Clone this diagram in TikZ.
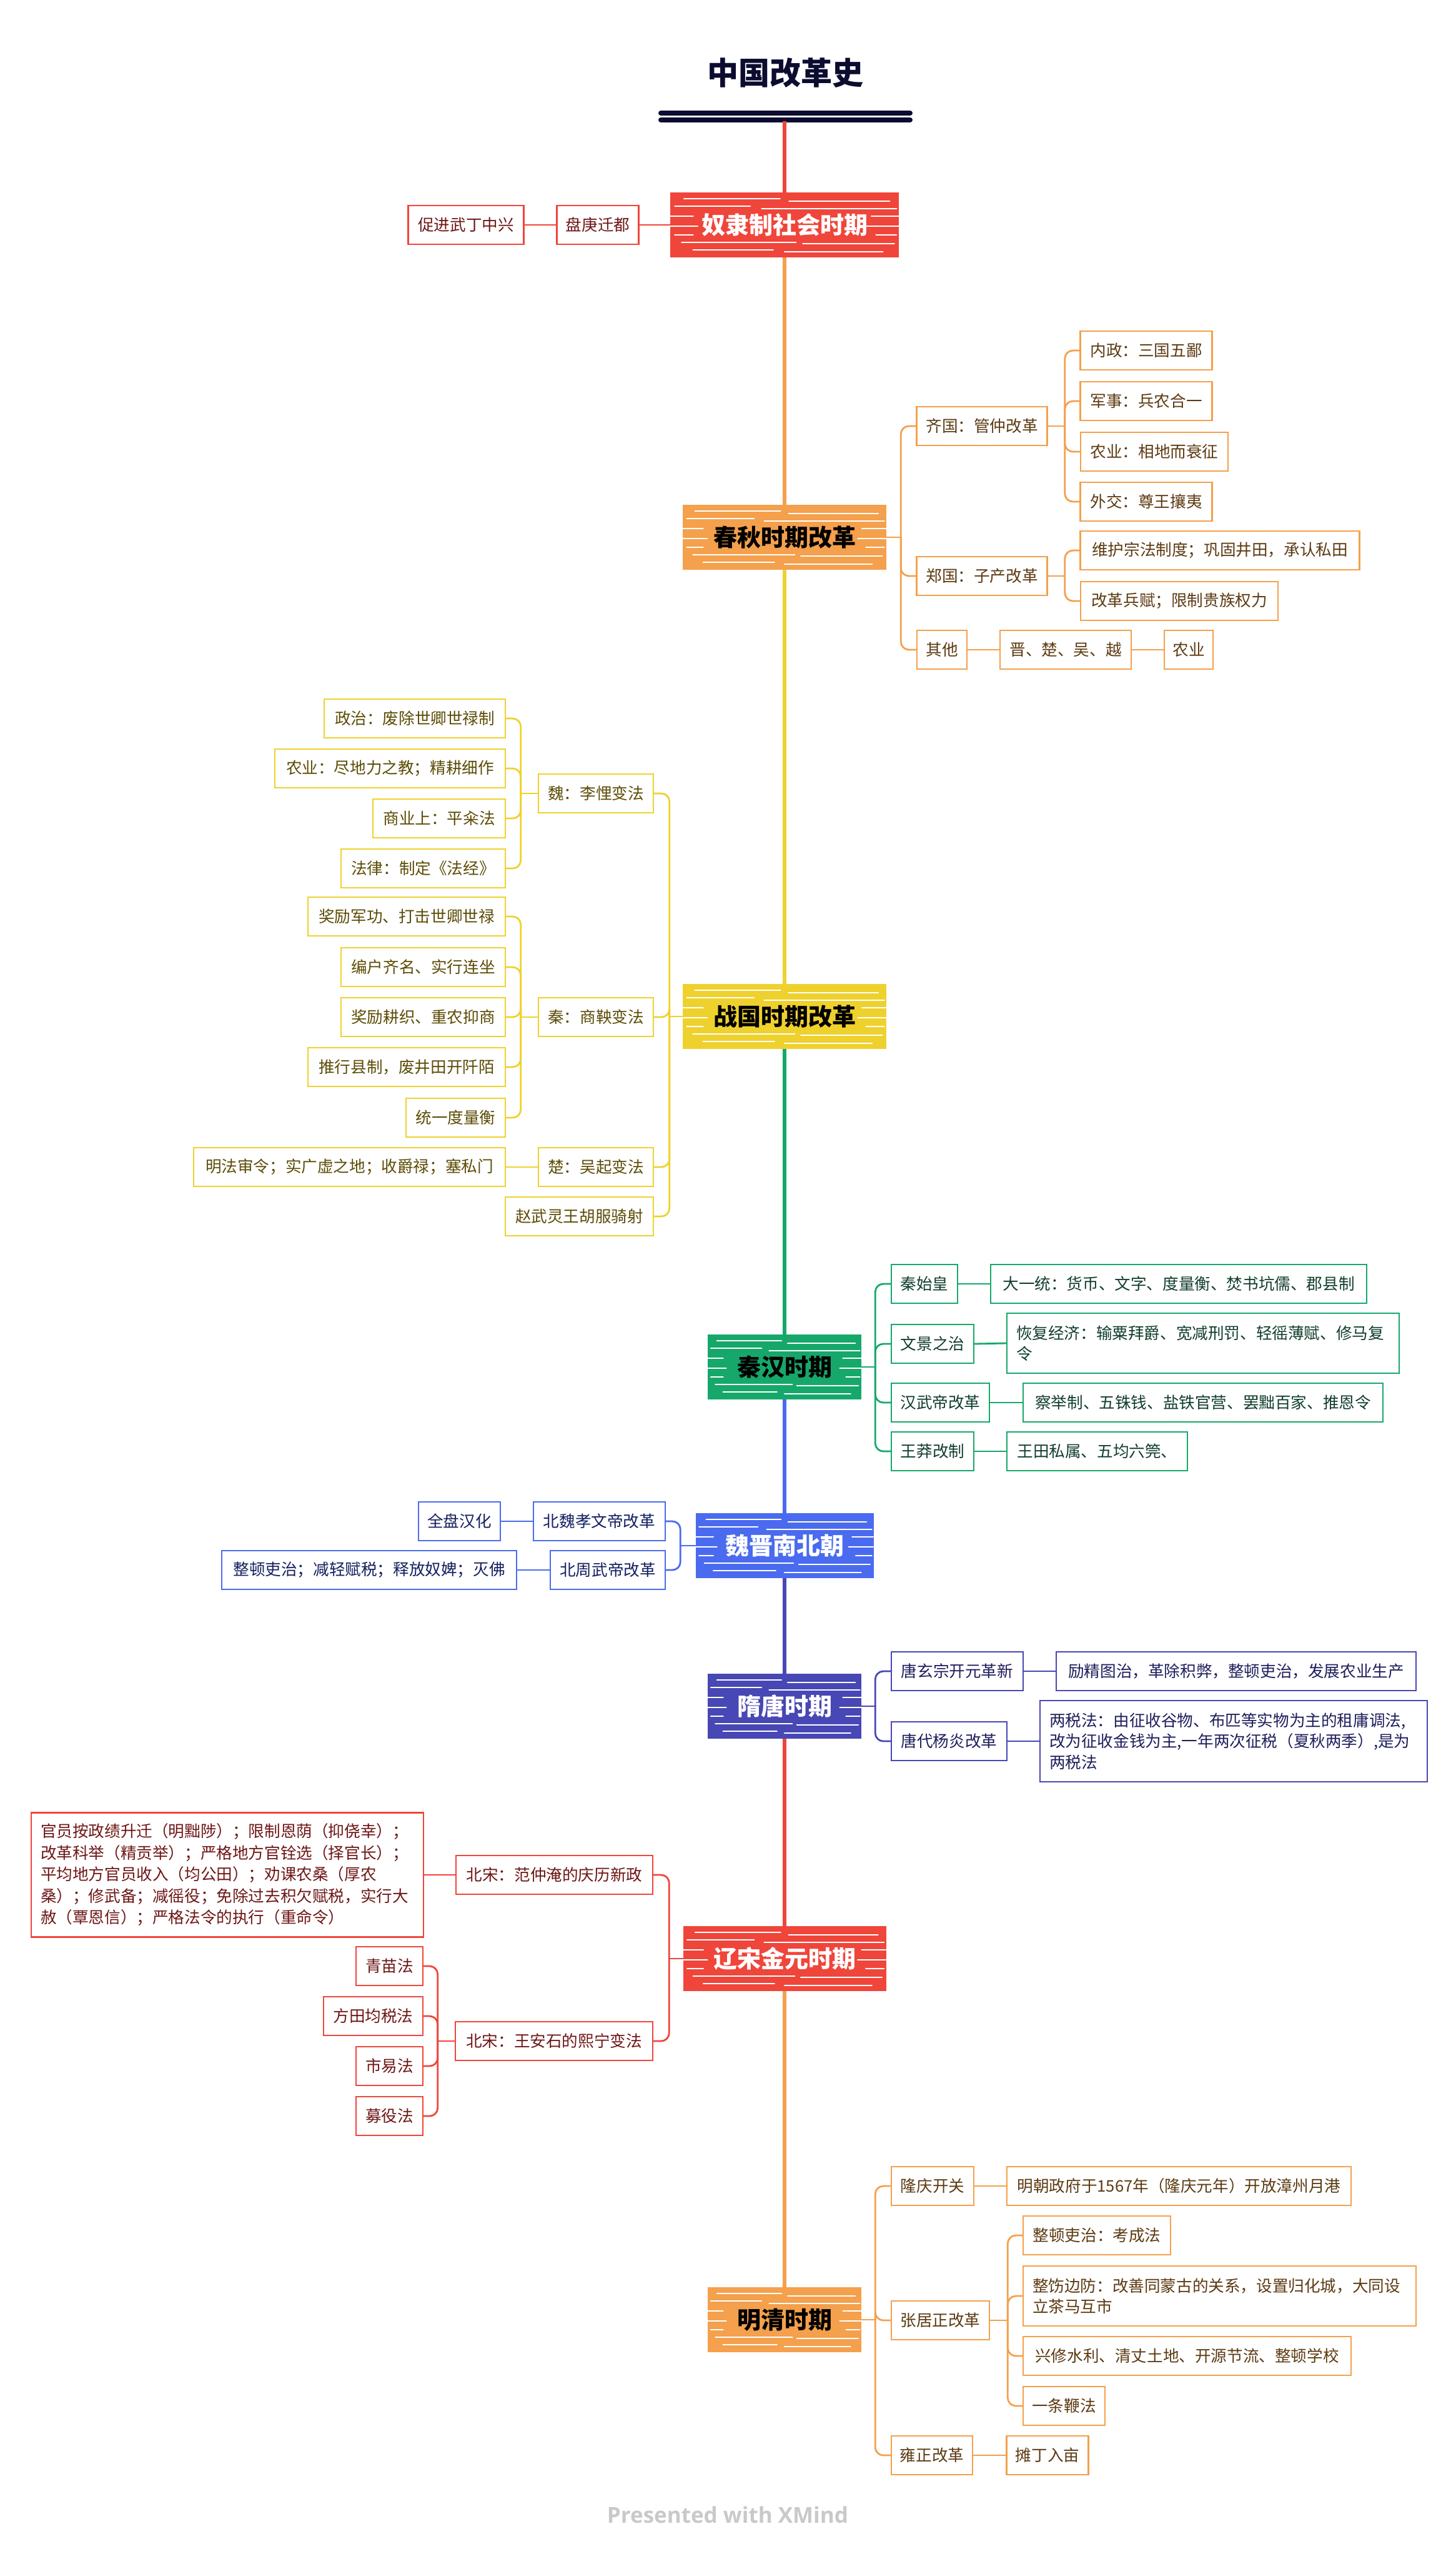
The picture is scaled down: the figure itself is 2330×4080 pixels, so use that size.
\documentclass[tikz,border=0pt]{standalone}
\usepackage{fontspec}
\setmainfont{Noto Sans CJK SC}
\newfontfamily\xmfont{Open Sans}
\usetikzlibrary{calc}
\definecolor{cR}{HTML}{F0453A}
\definecolor{cO}{HTML}{F4A04C}
\definecolor{cY}{HTML}{EFD12E}
\definecolor{cG}{HTML}{16A86B}
\definecolor{cB}{HTML}{4A6BEF}
\definecolor{cI}{HTML}{4747B5}
\definecolor{tR}{HTML}{6E1616}
\definecolor{tO}{HTML}{5C3A12}
\definecolor{tY}{HTML}{5C4C06}
\definecolor{tG}{HTML}{123E2C}
\definecolor{tB}{HTML}{14205F}
\definecolor{tI}{HTML}{1E1E5C}
\definecolor{navy}{HTML}{0C0C30}
\definecolor{xmgray}{HTML}{C9C9C9}
\tikzset{
  wd/.style={minimum width=#1pt},
  ht/.style={minimum height=#1pt},
  sub/.style 2 args={draw=#1, text=#2, fill=white, line width=2.6pt, minimum height=62pt, inner sep=0pt, font=\fontsize{25.6}{33.5}\selectfont},
  nodeR/.style={sub={cR}{tR}},
  nodeO/.style={sub={cO}{tO}},
  nodeY/.style={sub={cY}{tY}},
  nodeG/.style={sub={cG}{tG}},
  nodeB/.style={sub={cB}{tB}},
  nodeI/.style={sub={cI}{tI}},
  ml/.style={align=left, text width=#1pt, inner xsep=15pt, inner ysep=0pt},
  mainbox/.style 2 args={fill=#1, text=#2, minimum height=104pt, inner sep=0pt, font=\bfseries\fontsize{38}{44}\selectfont,
    path picture={
      \foreach \yy/\xa/\xb in {-42/0.06/0.48, -38/0.52/0.96, -30/0.02/0.35, -26/0.40/0.99, -14/0.0/0.1, -14/0.88/1.0, 2/0.0/0.12, 2/0.86/1.0, 16/0.02/0.1, 16/0.9/0.99, 28/0.05/0.55, 30/0.58/0.98, 40/0.1/0.45, 43/0.5/0.93}{
        \draw[white, line width=2.4pt, line cap=round]
          ($(path picture bounding box.west)!\xa!(path picture bounding box.east)+(0,\yy)$) --
          ($(path picture bounding box.west)!\xb!(path picture bounding box.east)+(0,\yy)$);
      }
    }},
  trunk/.style={draw=#1, line width=5.5pt},
  lk/.style={draw=#1, line width=2.8pt, rounded corners=13pt, line cap=round},
}
\begin{document}
\begin{tikzpicture}[x={(1pt,0)}, y={(0,-1pt)}]
\fill[white] (0,0) rectangle (2330,4080);
\useasboundingbox (0,0) rectangle (2330,4080);

% title
\node[font=\bfseries\fontsize{50}{60}\selectfont, text=navy] (root) at (1257,117) {中国改革史};
\coordinate (barL) at (1058,181); \coordinate (barR) at (1457,181);
\coordinate (barL2) at (1058,192); \coordinate (barR2) at (1457,192);
\draw[navy, line width=8pt, line cap=round] (barL) -- (barR);
\draw[navy, line width=8pt, line cap=round] (barL2) -- (barR2);
\coordinate (bar) at (1256,194);

% main nodes
\node[mainbox={cR}{white}, wd=366] (m1) at (1256,360) {奴隶制社会时期};
\node[mainbox={cO}{black}, wd=326] (m2) at (1256,860) {春秋时期改革};
\node[mainbox={cY}{black}, wd=326] (m3) at (1256,1627) {战国时期改革};
\node[mainbox={cG}{black}, wd=246] (m4) at (1256,2188) {秦汉时期};
\node[mainbox={cB}{white}, wd=285] (m5) at (1256,2474) {魏晋南北朝};
\node[mainbox={cI}{white}, wd=246] (m6) at (1256,2731) {隋唐时期};
\node[mainbox={cR}{white}, wd=325] (m7) at (1256,3135) {辽宋金元时期};
\node[mainbox={cO}{black}, wd=246] (m8) at (1256,3713) {明清时期};

\draw[trunk=cR] (bar) -- (m1.north);
\draw[trunk=cO] (m1.south) -- (m2.north);
\draw[trunk=cY] (m2.south) -- (m3.north);
\draw[trunk=cG] (m3.south) -- (m4.north);
\draw[trunk=cB] (m4.south) -- (m5.north);
\draw[trunk=cI] (m5.south) -- (m6.north);
\draw[trunk=cR] (m6.south) -- (m7.north);
\draw[trunk=cO] (m7.south) -- (m8.north);

% ---- 奴隶制社会时期
\node[nodeR, wd=131] (pg) at (957,360) {盘庚迁都};
\node[nodeR, wd=185] (cj) at (746,360) {促进武丁中兴};
\draw[lk=cR] (m1.west) -- (pg.east);
\draw[lk=cR] (pg.west) -- (cj.east);

% ---- 春秋时期改革
\node[nodeO, wd=209] (qg) at (1572,682) {齐国：管仲改革};
\node[nodeO, wd=211] (nz) at (1835,561) {内政：三国五鄙};
\node[nodeO, wd=211] (js) at (1835,642) {军事：兵农合一};
\node[nodeO, wd=236] (ny) at (1848,723) {农业：相地而衰征};
\node[nodeO, wd=211] (wj) at (1835,803) {外交：尊王攘夷};
\node[nodeO, wd=209] (zg) at (1572,922) {郑国：子产改革};
\node[nodeO, wd=447] (wh) at (1953,881) {维护宗法制度；巩固井田，承认私田};
\node[nodeO, wd=316] (gb) at (1888,962) {改革兵赋；限制贵族权力};
\node[nodeO, wd=80] (qt) at (1508,1040) {其他};
\node[nodeO, wd=210] (jc) at (1706,1040) {晋、楚、吴、越};
\node[nodeO, wd=78] (nye) at (1903,1040) {农业};
\coordinate (j2) at ($(m2.east)+(23,0)$);
\draw[lk=cO] (m2.east) -- (j2);
\foreach \c in {qg,zg,qt} \draw[lk=cO] (j2) |- (\c.west);
\coordinate (jqg) at ($(qg.east)+(27,0)$);
\draw[lk=cO] (qg.east) -- (jqg);
\foreach \c in {nz,js,ny,wj} \draw[lk=cO] (jqg) |- (\c.west);
\coordinate (jzg) at ($(zg.east)+(27,0)$);
\draw[lk=cO] (zg.east) -- (jzg);
\foreach \c in {wh,gb} \draw[lk=cO] (jzg) |- (\c.west);
\draw[lk=cO] (qt.east) -- (jc.west);
\draw[lk=cO] (jc.east) -- (nye.west);

% ---- 战国时期改革
\node[nodeY, wd=184] (wei) at (954,1270) {魏：李悝变法};
\node[nodeY, wd=290] (y1) at (664,1150) {政治：废除世卿世禄制};
\node[nodeY, wd=369] (y2) at (624.5,1230) {农业：尽地力之教；精耕细作};
\node[nodeY, wd=212] (y3) at (703,1310) {商业上：平籴法};
\node[nodeY, wd=263] (y4) at (677.5,1390) {法律：制定《法经》};
\node[nodeY, wd=184] (qin) at (954,1628) {秦：商鞅变法};
\node[nodeY, wd=316] (s1) at (651,1467) {奖励军功、打击世卿世禄};
\node[nodeY, wd=263] (s2) at (677.5,1548) {编户齐名、实行连坐};
\node[nodeY, wd=263] (s3) at (677.5,1628) {奖励耕织、重农抑商};
\node[nodeY, wd=316] (s4) at (651,1708) {推行县制，废井田开阡陌};
\node[nodeY, wd=159] (s5) at (729.5,1789) {统一度量衡};
\node[nodeY, wd=184] (chu) at (954,1868) {楚：吴起变法};
\node[nodeY, wd=499] (c1) at (559.5,1868) {明法审令；实广虚之地；收爵禄；塞私门};
\node[nodeY, wd=237] (zw) at (927.5,1947) {赵武灵王胡服骑射};
\coordinate (j3) at ($(m3.west)+(-21,0)$);
\draw[lk=cY] (m3.west) -- (j3);
\foreach \c in {wei,qin,chu,zw} \draw[lk=cY] (j3) |- (\c.east);
\coordinate (jwei) at ($(wei.west)+(-27,0)$);
\draw[lk=cY] (wei.west) -- (jwei);
\foreach \c in {y1,y2,y3,y4} \draw[lk=cY] (jwei) |- (\c.east);
\coordinate (jqin) at ($(qin.west)+(-27,0)$);
\draw[lk=cY] (qin.west) -- (jqin);
\foreach \c in {s1,s2,s3,s4,s5} \draw[lk=cY] (jqin) |- (\c.east);
\draw[lk=cY] (chu.west) -- (c1.east);

% ---- 秦汉时期
\node[nodeG, wd=106] (sh) at (1480,2055) {秦始皇};
\node[nodeG, wd=602] (sh1) at (1887,2055) {大一统：货币、文字、度量衡、焚书坑儒、郡县制};
\node[nodeG, wd=132] (wjz) at (1493,2151) {文景之治};
\node[nodeG, ml=598, ht=96] (wj1) at (1926,2150) {恢复经济：输粟拜爵、宽减刑罚、轻徭薄赋、修马复\\令};
\node[nodeG, wd=157] (hw) at (1505.5,2245) {汉武帝改革};
\node[nodeG, wd=576] (hw1) at (1926,2245) {察举制、五铢钱、盐铁官营、罢黜百家、推恩令};
\node[nodeG, wd=132] (wm) at (1493,2323) {王莽改制};
\node[nodeG, wd=289] (wm1) at (1756.5,2323) {王田私属、五均六筦、};
\coordinate (j4) at ($(m4.east)+(22,0)$);
\draw[lk=cG] (m4.east) -- (j4);
\foreach \c in {sh,wjz,hw,wm} \draw[lk=cG] (j4) |- (\c.west);
\draw[lk=cG] (sh.east) -- (sh1.west);
\draw[lk=cG] (wjz.east) -- (wj1.west);
\draw[lk=cG] (hw.east) -- (hw1.west);
\draw[lk=cG] (wm.east) -- (wm1.west);

% ---- 魏晋南北朝
\node[nodeB, wd=211] (bw) at (959.5,2435) {北魏孝文帝改革};
\node[nodeB, wd=131] (qp) at (735.5,2435) {全盘汉化};
\node[nodeB, wd=184] (bz) at (973,2513) {北周武帝改革};
\node[nodeB, wd=472] (zd) at (591,2513) {整顿吏治；减轻赋税；释放奴婢；灭佛};
\coordinate (j5) at ($(m5.west)+(-24,0)$);
\draw[lk=cB] (m5.west) -- (j5);
\foreach \c in {bw,bz} \draw[lk=cB] (j5) |- (\c.east);
\draw[lk=cB] (bw.west) -- (qp.east);
\draw[lk=cB] (bz.west) -- (zd.east);

% ---- 隋唐时期
\node[nodeI, wd=211] (tx) at (1532.5,2675) {唐玄宗开元革新};
\node[nodeI, wd=576] (tx1) at (1979,2675) {励精图治，革除积弊，整顿吏治，发展农业生产};
\node[nodeI, wd=185] (ty) at (1519.5,2787) {唐代杨炎改革};
\node[nodeI, ml=590, ht=130] (ty1) at (1975,2787) {两税法：由征收谷物、布匹等实物为主的租庸调法,\\改为征收金钱为主,一年两次征税（夏秋两季）,是为\\两税法};
\coordinate (j6) at ($(m6.east)+(22,0)$);
\draw[lk=cI] (m6.east) -- (j6);
\foreach \c in {tx,ty} \draw[lk=cI] (j6) |- (\c.west);
\draw[lk=cI] (tx.east) -- (tx1.west);
\draw[lk=cI] (ty.east) -- (ty1.west);

% ---- 辽宋金元时期
\node[nodeR, wd=315] (fz) at (887.5,3001) {北宋：范仲淹的庆历新政};
\node[nodeR, ml=598, ht=199, font=\fontsize{25.6}{34.5}\selectfont] (fz1) at (364,3001) {官员按政绩升迁（明黜陟）；限制恩荫（抑侥幸）；\\改革科举（精贡举）；严格地方官铨选（择官长）；\\平均地方官员收入（均公田）；劝课农桑（厚农\\桑）；修武备；减徭役；免除过去积欠赋税，实行大\\赦（覃恩信）；严格法令的执行（重命令）};
\node[nodeR, wd=316] (wa) at (887,3267) {北宋：王安石的熙宁变法};
\node[nodeR, wd=107] (q1) at (623.5,3147) {青苗法};
\node[nodeR, wd=159] (q2) at (597.5,3227) {方田均税法};
\node[nodeR, wd=107] (q3) at (623.5,3307) {市易法};
\node[nodeR, wd=107] (q4) at (623.5,3387) {募役法};
\coordinate (j7) at ($(m7.west)+(-22,0)$);
\draw[lk=cR] (m7.west) -- (j7);
\foreach \c in {fz,wa} \draw[lk=cR] (j7) |- (\c.east);
\draw[lk=cR] (fz.west) -- (fz1.east);
\coordinate (jwa) at ($(wa.west)+(-27,0)$);
\draw[lk=cR] (wa.west) -- (jwa);
\foreach \c in {q1,q2,q3,q4} \draw[lk=cR] (jwa) |- (\c.east);

% ---- 明清时期
\node[nodeO, wd=132] (lq) at (1493,3499) {隆庆开关};
\node[nodeO, wd=551] (lq1) at (1887.5,3499) {明朝政府于1567年（隆庆元年）开放漳州月港};
\node[nodeO, wd=157] (zj) at (1505.5,3714) {张居正改革};
\node[nodeO, wd=236] (z1) at (1756,3578) {整顿吏治：考成法};
\node[nodeO, ml=599, ht=96] (z2) at (1952.5,3675) {整饬边防：改善同蒙古的关系，设置归化城，大同设\\立茶马互市};
\node[nodeO, wd=525] (z3) at (1900.5,3771) {兴修水利、清丈土地、开源节流、整顿学校};
\node[nodeO, wd=131] (z4) at (1703.5,3851) {一条鞭法};
\node[nodeO, wd=130] (yz) at (1492,3930) {雍正改革};
\node[nodeO, wd=131] (yz1) at (1677,3930) {摊丁入亩};
\coordinate (j8) at ($(m8.east)+(22,0)$);
\draw[lk=cO] (m8.east) -- (j8);
\foreach \c in {lq,zj,yz} \draw[lk=cO] (j8) |- (\c.west);
\draw[lk=cO] (lq.east) -- (lq1.west);
\coordinate (jzj) at ($(zj.east)+(28,0)$);
\draw[lk=cO] (zj.east) -- (jzj);
\foreach \c in {z1,z2,z3,z4} \draw[lk=cO] (jzj) |- (\c.west);
\draw[lk=cO] (yz.east) -- (yz1.west);

% footer
\node[font=\xmfont\bfseries\fontsize{35}{40}\selectfont, text=xmgray] (xm) at (1165,4025) {Presented with XMind};
\end{tikzpicture}
\end{document}
